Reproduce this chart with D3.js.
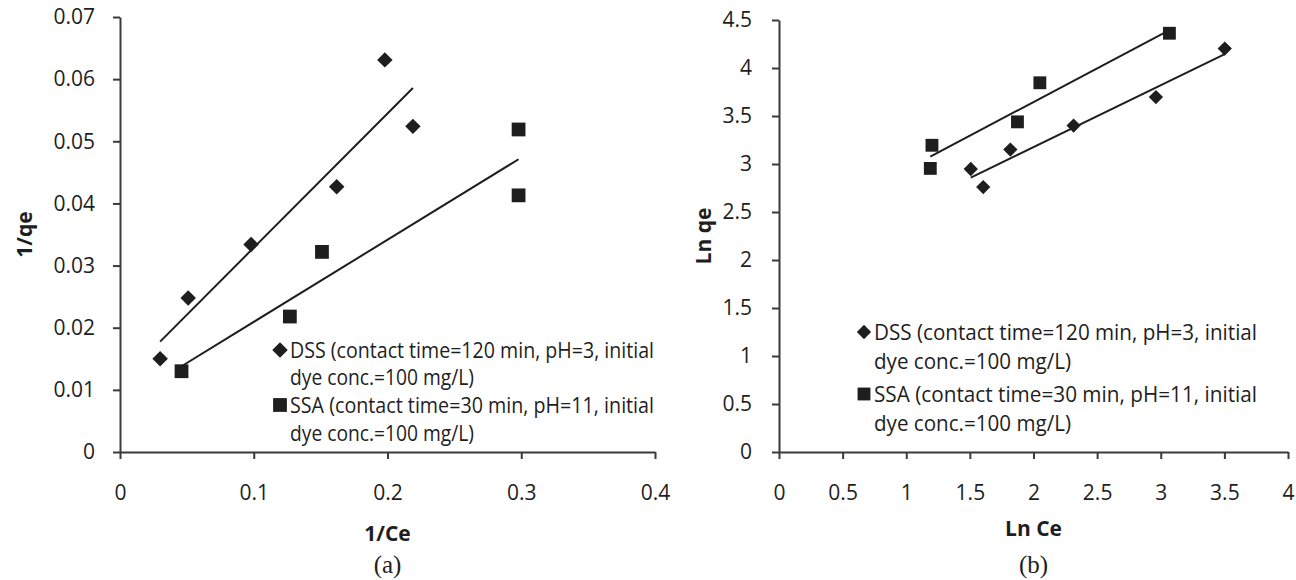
<!DOCTYPE html>
<html>
<head>
<meta charset="utf-8">
<script src="https://cdn.jsdelivr.net/npm/d3@7"></script>
<style>
	body { margin: 0; background: #fff; }
	svg text { font-family: "Open Sans", sans-serif; fill: #1e1e1e; }
</style>
</head>
<body>
<svg id="chart" width="1296" height="580"></svg>
<script>
// (a) 1/Ce vs 1/qe
const dssInvCe = [0.030, 0.051, 0.098, 0.162, 0.198, 0.219];
const dssInvQe = [0.0150, 0.0248, 0.0334, 0.0427, 0.0631, 0.0524];
const ssaInvCe = [0.046, 0.127, 0.151, 0.298, 0.298];
const ssaInvQe = [0.0130, 0.0218, 0.0322, 0.0519, 0.0413];

// (b) Ln Ce vs Ln qe
const dssLnCe = [1.507, 1.605, 1.818, 2.315, 2.962, 3.503];
const dssLnQe = [2.948, 2.760, 3.150, 3.400, 3.697, 4.202];
const ssaLnCe = [1.189, 1.202, 1.874, 2.050, 3.068];
const ssaLnQe = [2.954, 3.195, 3.439, 3.846, 4.362];

const invCeTicks = [0, 0.1, 0.2, 0.3, 0.4];
const invQeTicks = [0, 0.01, 0.02, 0.03, 0.04, 0.05, 0.06, 0.07];
const lnCeTicks = [0, 0.5, 1, 1.5, 2, 2.5, 3, 3.5, 4];
const lnQeTicks = [0, 0.5, 1, 1.5, 2, 2.5, 3, 3.5, 4, 4.5];

const dssLegend = ["DSS (contact time=120 min, pH=3, initial", "dye conc.=100 mg/L)"];
const ssaLegend = ["SSA (contact time=30 min, pH=11, initial", "dye conc.=100 mg/L)"];

const svg = d3.select("#chart");
const ink = "#1e1e1e";

// least squares fit, drawn over the range of the series
const fit = (xs, ys) => {
	const mx = d3.mean(xs);
	const my = d3.mean(ys);
	const sxy = d3.sum(xs, (x, i) => (x - mx) * (ys[i] - my));
	const sxx = d3.sum(xs, (x) => (x - mx) * (x - mx));
	const slope = sxy / sxx;
	const b = my - slope * mx;
	const [x0, x1] = d3.extent(xs);

	return [[x0, b + slope * x0], [x1, b + slope * x1]];
};

const drawPanel = (p) => {
	const g = svg.append("g");

	const x = d3.scaleLinear().domain(d3.extent(p.xTicks)).range([p.left, p.right]);
	const y = d3.scaleLinear().domain(d3.extent(p.yTicks)).range([p.bottom, p.top]);

	const xAxis = g.append("g")
	.attr("transform", `translate(0, ${p.bottom})`)
	.call(d3.axisBottom(x).tickValues(p.xTicks).tickFormat(String).tickSize(7).tickSizeOuter(0).tickPadding(26));

	const yAxis = g.append("g")
	.attr("transform", `translate(${p.left}, 0)`)
	.call(d3.axisLeft(y).tickValues(p.yTicks).tickFormat(String).tickSize(7).tickSizeOuter(0).tickPadding(p.yPad));

	[xAxis, yAxis].forEach((a) => {
		a.select(".domain").attr("stroke", "#3a3a3a").attr("stroke-width", 2);
		a.selectAll(".tick line").attr("stroke", "#3a3a3a").attr("stroke-width", 2);
		a.selectAll(".tick text")
		.attr("font-size", "21px")
		.attr("font-family", "'Open Sans', sans-serif")
		.attr("fill", ink);
	});

	const line = d3.line().x((d) => x(d[0])).y((d) => y(d[1]));

	p.series.forEach((s) => {
		g.append("path")
		.attr("d", line(fit(s.xs, s.ys)))
		.attr("fill", "none")
		.attr("stroke", ink)
		.attr("stroke-width", 2);
	});

	p.series.forEach((s) => {
		g.selectAll(null)
		.data(s.xs.map((v, i) => [v, s.ys[i]]))
		.enter()
		.append("path")
		.attr("d", d3.symbol(d3.symbolSquare, s.size))
		.attr("transform", (d) => `translate(${x(d[0])}, ${y(d[1])}) rotate(${s.rot})`)
		.attr("fill", ink);
	});

	// legend
	p.series.forEach((s, k) => {
		const ly = p.legendY[k];

		g.append("path")
		.attr("d", d3.symbol(d3.symbolSquare, s.size))
		.attr("transform", `translate(${p.legendX}, ${ly[0]}) rotate(${s.rot})`)
		.attr("fill", ink);

		s.legend.forEach((t, j) => {
			g.append("text")
			.attr("x", p.legendX + 10)
			.attr("y", ly[j])
			.attr("dy", "0.36em")
			.attr("font-size", p.legendSize)
			.attr("textLength", j === 0 ? p.legendW[0] : p.legendW[1])
			.attr("lengthAdjust", "spacingAndGlyphs")
			.text(t);
		});
	});

	const cx = (p.left + p.right) / 2;

	g.append("text")
	.attr("transform", `translate(${p.yTitleX}, ${(p.top + p.bottom) / 2}) rotate(-90)`)
	.attr("text-anchor", "middle")
	.attr("dy", "0.36em")
	.attr("font-size", "21px")
	.attr("font-weight", "bold")
	.text(p.yTitle);

	g.append("text")
	.attr("x", cx)
	.attr("y", p.xTitleY)
	.attr("text-anchor", "middle")
	.attr("dy", "0.36em")
	.attr("font-size", "21px")
	.attr("font-weight", "bold")
	.text(p.xTitle);

	g.append("text")
	.attr("x", cx)
	.attr("y", 565)
	.attr("text-anchor", "middle")
	.attr("dy", "0.33em")
	.attr("font-size", "25px")
	.style("font-family", "'Liberation Serif', 'Times New Roman', serif")
	.text(p.caption);
};

drawPanel({
	left: 120, right: 655, top: 17, bottom: 452, yPad: 18,
	xTicks: invCeTicks, yTicks: invQeTicks,
	xTitle: "1/Ce", yTitle: "1/qe", xTitleY: 533, yTitleX: 24, caption: "(a)",
	legendX: 280, legendY: [[350, 377], [405, 433]], legendSize: "21px", legendW: [364, 184],
	series: [
		{xs: dssInvCe, ys: dssInvQe, size: 120, rot: 45, legend: dssLegend},
		{xs: ssaInvCe, ys: ssaInvQe, size: 190, rot: 0, legend: ssaLegend}
	]
});

drawPanel({
	left: 779, right: 1288, top: 20, bottom: 452, yPad: 20,
	xTicks: lnCeTicks, yTicks: lnQeTicks,
	xTitle: "Ln Ce", yTitle: "Ln qe", xTitleY: 528, yTitleX: 703, caption: "(b)",
	legendX: 864, legendY: [[332, 361], [394, 423]], legendSize: "22px", legendW: [383, 197],
	series: [
		{xs: dssLnCe, ys: dssLnQe, size: 102, rot: 45, legend: dssLegend},
		{xs: ssaLnCe, ys: ssaLnQe, size: 165, rot: 0, legend: ssaLegend}
	]
});
</script>
</body>
</html>
